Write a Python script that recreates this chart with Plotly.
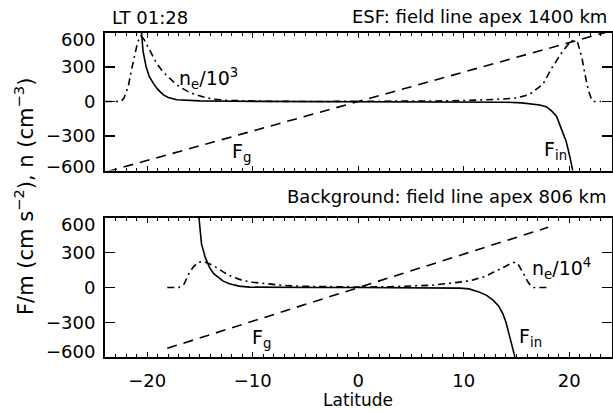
import plotly.graph_objects as go

# ---------------- data ----------------
# Top panel: ESF, field line apex 1400 km
lat_fg_top = [-23.8, 24.0]
fg_top = [-610, 615]

lat_ne_top = [-24.0, -22.5, -22.2, -21.8, -21.5, -21.2, -20.9, -20.6, -20.3, -19.9, -19.5,
              -19.1, -18.6, -18.2, -17.5, -16.9, -16.2, -15.6, -14.5, -13.7, -12.5, -11.0,
              -8.0, -4.0, 0.0, 4.0, 8.0, 10.0, 12.0, 13.4, 15.0, 16.2, 17.5, 18.4, 19.4,
              20.2, 20.8, 21.2, 21.5, 21.8, 22.1, 22.3, 23.0]
ne_top = [0, 0, 30, 130, 270, 410, 520, 570, 540, 470, 400,
          330, 270, 230, 170, 125, 90, 66, 35, 20, 10, 5,
          1, 0, 0, 1, 5, 8, 12, 20, 30, 60, 150, 300, 440,
          530, 510, 380, 230, 100, 20, 0, 0]

lat_fin_top = [-20.62, -20.5, -20.4, -20.1, -19.8, -19.4, -19.0, -18.5, -18.0, -17.2, -16.0,
               -15.0, -12.0, -8.0, -4.0, 0.0, 4.0, 8.0, 12.0, 14.0, 15.5, 16.5, 17.2, 17.8,
               18.3, 18.8, 19.1, 19.4, 19.7, 19.9, 20.1, 20.3, 20.4]
fin_top = [700, 560, 440, 300, 215, 155, 105, 60, 35, 15, 7,
           5, 2, 1, 0, 0, 0, -1, -3, -6, -12, -20, -30, -45,
           -80, -130, -195, -275, -345, -415, -500, -590, -650]

# Bottom panel: Background, field line apex 806 km
lat_fg_bot = [-18.1, 18.0]
fg_bot = [-525, 520]

lat_ne_bot = [-18.1, -17.0, -16.5, -16.0, -15.6, -15.2, -14.8, -14.4, -13.7, -12.8, -11.9,
              -11.0, -10.0, -8.5, -7.0, -5.0, -3.0, 0.0, 3.0, 5.5, 7.0, 8.7, 10.0, 10.9,
              12.0, 12.8, 13.8, 14.7, 15.1, 15.5, 15.8, 16.1, 16.4, 16.6, 18.0]
ne_bot = [0, 0, 30, 130, 180, 215, 225, 215, 188, 135, 90,
          62, 45, 28, 17, 10, 6, 4, 6, 12, 20, 37, 50, 66,
          95, 131, 175, 217, 210, 146, 90, 45, 10, 0, 0]

lat_fin_bot = [-15.2, -15.0, -14.85, -14.5, -14.1, -13.7, -13.3, -12.8, -12.2, -11.3, -10.3,
               -8.0, -4.0, 0.0, 4.0, 8.0, 9.6, 10.5, 11.5, 12.2, 12.8, 13.3, 13.7, 14.0,
               14.3, 14.55, 14.8, 14.9]
fin_bot = [700, 520, 374, 260, 174, 120, 88, 55, 32, 12, 3,
           0, 0, 0, 0, -2, -5, -12, -40, -70, -111, -160, -226, -300,
           -397, -490, -583, -650]

x_ticks = [-20, -10, 0, 10, 20]
y_ticks = [-600, -300, 0, 300, 600]
y_ticktext = ["", "−300", "0", "300", ""]   # end labels are drawn inset, below

# ---------------- figure ----------------
W, H = 613, 412
def px(x): return x / W
def py(y): return 1 - y / H

FONT = "DejaVu Sans"
DASH = "10px,7px"
DASHDOT = "7px,4px,2px,4px"

fig = go.Figure()
def add(x, y, dash, xa, ya):
    fig.add_trace(go.Scatter(x=x, y=y, mode="lines", xaxis=xa, yaxis=ya,
                             line=dict(color="black", width=1.6, dash=dash),
                             showlegend=False, hoverinfo="skip"))

add(lat_fg_top, fg_top, DASH, "x", "y")
add(lat_ne_top, ne_top, DASHDOT, "x", "y")
add(lat_fin_top, fin_top, "solid", "x", "y")
add(lat_fg_bot, fg_bot, DASH, "x2", "y2")
add(lat_ne_bot, ne_bot, DASHDOT, "x2", "y2")
add(lat_fin_bot, fin_bot, "solid", "x2", "y2")

xdom = [px(105), px(611.5)]
common_x = dict(range=[-24, 24], tickvals=x_ticks, ticks="inside", ticklen=5, tickwidth=1.2,
                tickcolor="black", showline=True, linecolor="black", linewidth=2,
                mirror="ticks", showgrid=False, zeroline=False, ticklabelstandoff=6,
                minor=dict(dtick=1, tick0=0, ticks="inside", ticklen=3, tickwidth=1,
                           tickcolor="black", showgrid=False),
                tickfont=dict(family=FONT, size=18, color="black"), domain=xdom)
common_y = dict(range=[-600, 600], tickvals=y_ticks, ticktext=y_ticktext, ticks="inside",
                ticklen=10, tickwidth=1.2, tickcolor="black", showline=True,
                linecolor="black", linewidth=2, mirror="ticks", showgrid=False,
                zeroline=False, ticklabelstandoff=4,
                tickfont=dict(family=FONT, size=18, color="black"))

fig.update_layout(
    width=W, height=H, margin=dict(l=0, r=0, t=0, b=0),
    paper_bgcolor="white", plot_bgcolor="white",
    xaxis=dict(common_x, anchor="y", showticklabels=False),
    yaxis=dict(common_y, anchor="x", domain=[py(170.5), py(32.5)]),
    xaxis2=dict(common_x, anchor="y2"),
    yaxis2=dict(common_y, anchor="x2", domain=[py(357), py(218)]),
)

def ann(text, x, y, xref="paper", yref="paper", xanchor="left", yanchor="middle",
        size=18, angle=0, yshift=0):
    fig.add_annotation(text=text, x=x, y=y, xref=xref, yref=yref, xanchor=xanchor,
                       yanchor=yanchor, showarrow=False, textangle=angle, yshift=yshift,
                       font=dict(family=FONT, size=size, color="black"))

# inset end tick labels (as in the reference)
for yr, yv, sh in [("y", 600, -7), ("y", -600, 4), ("y2", 600, -6), ("y2", -600, 6)]:
    ann("600" if yv > 0 else "−600", px(97), yv, yref=yr, xanchor="right", yshift=sh)

# titles
ann("LT 01:28", px(110), py(18))
ann("ESF: field line apex 1400 km", px(609), py(17), xanchor="right")
ann("Background: field line apex 806 km", px(609), py(196), xanchor="right")
# curve labels
ann("n<sub>e</sub>/10<sup>3</sup>", px(177), py(78), size=19)
ann("F<sub>g</sub>", px(230), py(153), size=19)
ann("F<sub>in</sub>", px(542), py(151), size=19)
ann("n<sub>e</sub>/10<sup>4</sup>", px(530), py(268), size=19)
ann("F<sub>g</sub>", px(250), py(338), size=19)
ann("F<sub>in</sub>", px(517), py(337), size=19)
# axis titles
ann("F/m (cm s<sup>−2</sup>), n (cm<sup>−3</sup>)", px(24), py(197), xanchor="center",
    size=21, angle=-90)
ann("Latitude", px(358), py(400), xanchor="center", size=17)

# remove the default 8px page margin so the 613x412 figure fills the window exactly
fig.write_html("out.html",
               config={"displayModeBar": False, "staticPlot": True},
               post_script="document.body.style.margin='0';"
                           "document.body.style.overflow='hidden';")
